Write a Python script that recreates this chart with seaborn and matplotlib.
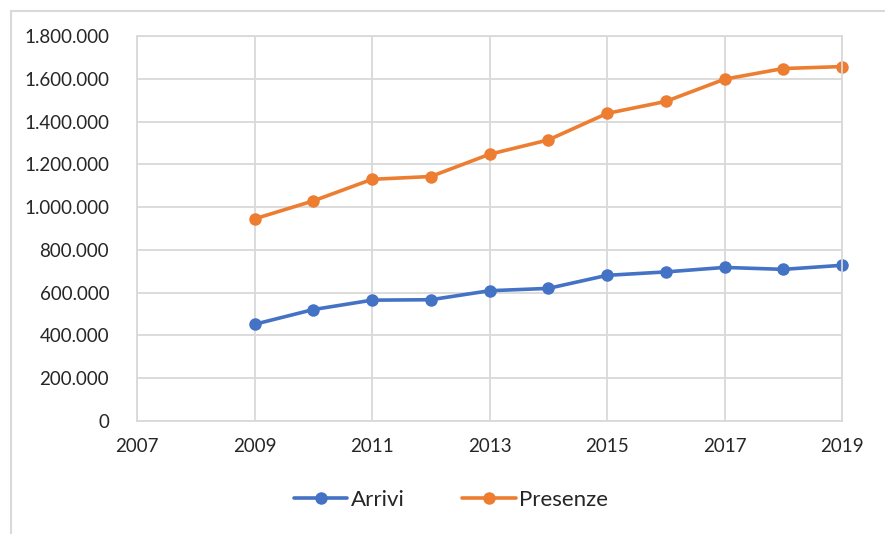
import matplotlib
matplotlib.use("Agg")
import matplotlib.pyplot as plt
import matplotlib.ticker as mticker
from matplotlib.patches import Rectangle
import pandas as pd
import seaborn as sns

# values
anni = [2009, 2010, 2011, 2012, 2013, 2014, 2015, 2016, 2017, 2018, 2019]
arrivi = [452000, 521000, 565000, 567000, 609000, 620000, 681000, 697000, 718000, 709000, 728000]
presenze = [945000, 1029000, 1130000, 1143000, 1247000, 1314000, 1438000, 1494000, 1598000, 1648000, 1657000]
x_ticks = [2007, 2009, 2011, 2013, 2015, 2017, 2019]
y_ticks = [0, 200000, 400000, 600000, 800000, 1000000, 1200000, 1400000, 1600000, 1800000]

df = pd.DataFrame({"Anno": anni * 2,
                   "Valore": arrivi + presenze,
                   "Serie": ["Arrivi"] * len(anni) + ["Presenze"] * len(anni)})

sns.set_style("white")
plt.rcParams["font.family"] = ["Lato", "DejaVu Sans"]

fig = plt.figure(figsize=(8.85, 5.34), dpi=100)
ax = fig.add_axes([137 / 885, 1 - 421 / 534, (842 - 137) / 885, (421 - 36) / 534])

sns.lineplot(data=df, x="Anno", y="Valore", hue="Serie",
             palette={"Arrivi": "#4472c4", "Presenze": "#ed7d31"},
             marker="o", markersize=9, markeredgewidth=0, linewidth=2.6,
             legend=True, ax=ax)
for ln in ax.lines:
    ln.set_clip_on(False)

ax.set_xlim(2007, 2019)
ax.set_ylim(0, 1800000)
ax.set_xticks(x_ticks)
ax.set_yticks(y_ticks)
ax.yaxis.set_major_formatter(mticker.FuncFormatter(lambda v, p: f"{int(v):,}".replace(",", ".")))
ax.grid(True, color="#d9d9d9", linewidth=1.3)
ax.set_axisbelow(True)
for s in ax.spines.values():
    s.set_color("#d9d9d9")
    s.set_linewidth(1.3)
ax.tick_params(axis="both", length=0, labelsize=13.5, colors="#262626")
ax.tick_params(axis="x", pad=12)
ax.tick_params(axis="y", pad=20)
ax.set_xlabel("")
ax.set_ylabel("")

handles, labels = ax.get_legend_handles_labels()
ax.get_legend().remove()
fig.legend(handles, labels, loc="center", bbox_to_anchor=(451 / 885, 1 - 500 / 534), ncol=2,
           frameon=False, fontsize=16, handlelength=2.4, columnspacing=2.6,
           handletextpad=0.15, labelcolor="#262626")

# chart area border as in the spreadsheet export
fig.patches.append(Rectangle((11 / 885, -0.05), 1.2, 1 - 11 / 534 + 0.05,
                             transform=fig.transFigure, fill=False,
                             edgecolor="#d9d9d9", linewidth=1.5))

fig.savefig("out.png", dpi=100)
